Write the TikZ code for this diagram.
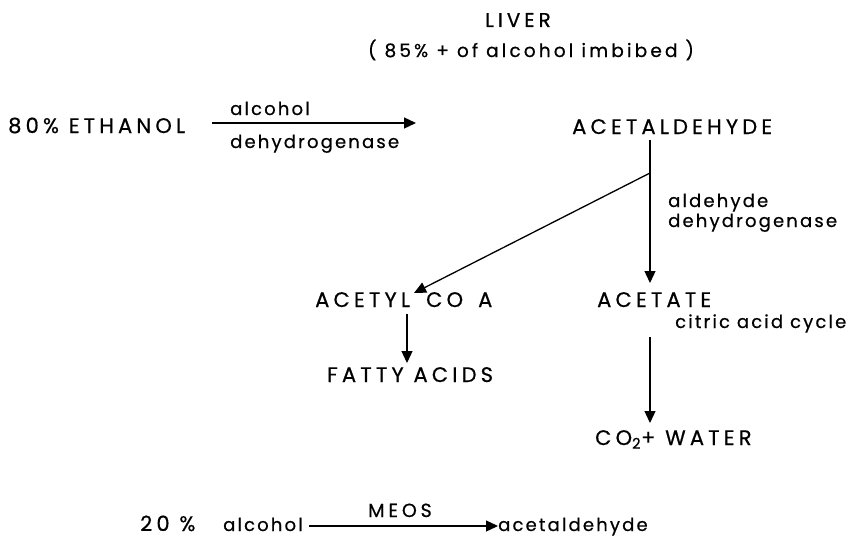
\documentclass[tikz,border=0pt]{standalone}
\usepackage{fontspec}
\setmainfont{Poppins}
\newfontfamily\capsfont{Poppins}[LetterSpace=20,FakeBold=0.6]
\newfontfamily\lcfont{Poppins}[LetterSpace=12,FakeBold=0.6]
\newfontfamily\ttlfont{Poppins}[LetterSpace=17,FakeBold=0.6]
\usetikzlibrary{arrows.meta}
\begin{document}
\begin{tikzpicture}[x=1pt,y=-1pt,
  capl/.style={inner sep=0pt,anchor=base west,font=\capsfont\fontsize{21}{22}\selectfont},
  sml/.style={inner sep=0pt,anchor=base west,font=\lcfont\fontsize{18}{20}\selectfont},
  conn/.style={line width=1.3pt,-{Triangle[length=12pt,width=11pt]}}]
\useasboundingbox (0,0) rectangle (855,538);
% titles
\node[capl,anchor=base,font=\capsfont\fontsize{20}{22}\selectfont] (liver) at (518,27) {LIVER};
\node[inner sep=0pt,anchor=base,font=\ttlfont\fontsize{18.5}{20}\selectfont] (pct) at (531,57) {( 85\% + of alcohol imbibed )};
% ethanol line
\node[capl] (eth) at (8,133) {80\% ETHANOL};
\coordinate (ethstart) at (212,123);
\coordinate (ethend) at (416,123);
\node[sml] (alc) at (230,115) {alcohol};
\node[sml] (dh1) at (230,148) {dehydrogenase};
\node[capl] (acald) at (572,134) {ACETALDEHYDE};
\draw[conn] (ethstart) -- (ethend);
% branches
\node[capl] (acetate) at (597,307) {ACETATE};
\node[capl] (acetyl) at (315,307) {\makebox[111pt][l]{ACETYL}\makebox[52pt][l]{CO}A};
\coordinate (top) at (650,140);
\coordinate (split) at (650,173);
\coordinate (acetatetop) at (650,283);
\coordinate (acetyltop) at (414,293);
\draw[conn] (top) -- (acetatetop);
\draw[conn] (split) -- (acetyltop);
\node[sml] (ald) at (668,207) {aldehyde};
\node[sml] (dh2) at (668,227) {dehydrogenase};
\node[sml] (cac) at (675,328) {citric acid cycle};
% lower
\node[capl] (fatty) at (327,382) {FATTY ACIDS};
\coordinate (fa1) at (407,314);
\coordinate (fa2) at (407,363);
\draw[conn] (fa1) -- (fa2);
\node[capl] (co2) at (595,445) {CO\textsubscript{2}+ WATER};
\coordinate (ca1) at (650,337);
\coordinate (ca2) at (650,423);
\draw[conn] (ca1) -- (ca2);
% MEOS
\node[capl] (twenty) at (140,531) {20 \%};
\node[sml] (alc2) at (223,531) {alcohol};
\node[capl,font=\capsfont\fontsize{19}{20}\selectfont] (meos) at (368,517) {MEOS};
\node[sml] (acald2) at (498,531) {acetaldehyde};
\draw[conn] (alc2.east |- 0,526) ++(6,0) -- (acald2.west |- 0,526);
\end{tikzpicture}
\end{document}
